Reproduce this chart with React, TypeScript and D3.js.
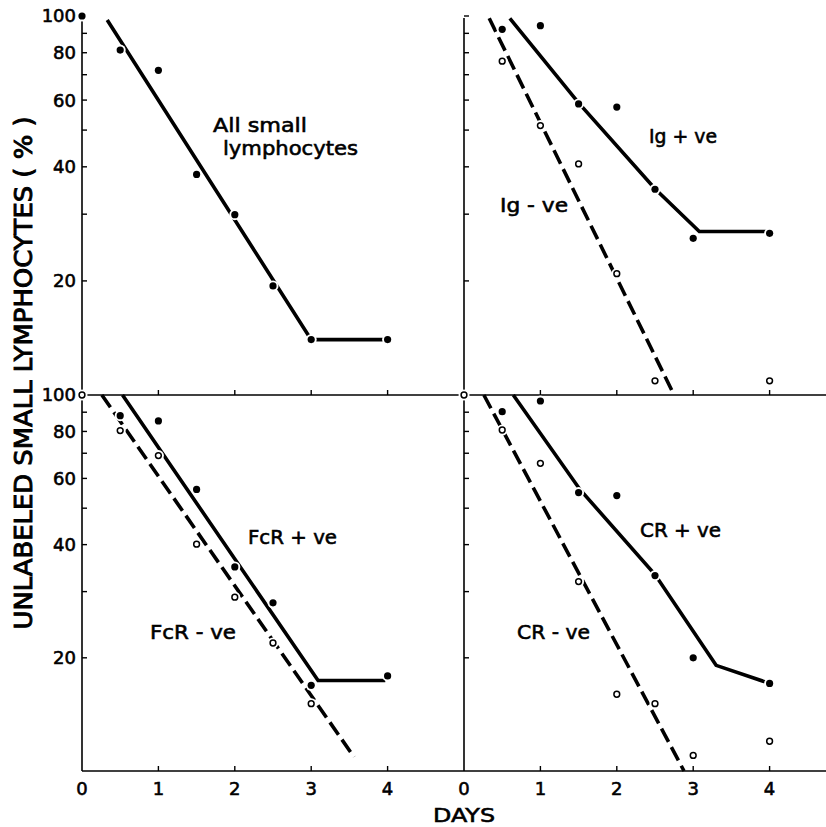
import React from "react";
import * as d3 from "d3";

// Sampling days and observed survival (% unlabeled small lymphocytes)
const allDays = [0, 0.5, 1, 1.5, 2, 2.5, 3, 4];
const allSmall = [100, 81.3, 71.9, 38.2, 29.9, 19.4, 14.0, 14.0];

const igPosDays = [0.5, 1, 1.5, 2, 2.5, 3, 4];
const igPos = [92.2, 94.3, 58.6, 57.5, 34.9, 25.9, 26.7];
const igNegDays = [0.5, 1, 1.5, 2, 2.5, 4];
const igNeg = [76.0, 51.4, 40.7, 20.9, 10.9, 10.9];

const fcrPosDays = [0.5, 1, 1.5, 2, 2.5, 3, 4];
const fcrPos = [88.1, 85.3, 56.1, 34.9, 28.0, 16.9, 17.9];
const fcrNegDays = [0, 0.5, 1, 1.5, 2, 2.5, 3];
const fcrNeg = [100, 80.4, 69.0, 40.1, 29.0, 21.9, 15.1];

const crPosDays = [0.5, 1, 1.5, 2, 2.5, 3, 4];
const crPos = [90.3, 96.4, 55.0, 54.0, 33.1, 20.0, 17.1];
const crNegDays = [0, 0.5, 1, 1.5, 2, 2.5, 3, 4];
const crNeg = [100, 80.7, 65.8, 31.9, 16.0, 15.1, 11.0, 12.0];

// Hand-fitted decay lines: [day, percent]
const allFit: [number, number][] = [[0.33, 97.6], [3, 14], [4, 14]];
const igPosFit: [number, number][] = [[0.6, 98.6], [1.5, 59], [2.5, 35], [3.08, 27], [4, 27]];
const igNegFit: [number, number][] = [[0.33, 98.6], [2.75, 10]];
const fcrPosFit: [number, number][] = [[0.53, 100], [3.09, 17.4], [3.97, 17.4]];
const fcrNegFit: [number, number][] = [[0.26, 100], [3.56, 10.9]];
const crPosFit: [number, number][] = [[0.645, 100], [1.52, 56], [2.5, 33.3], [3.3, 19.1], [4, 17.1]];
const crNegFit: [number, number][] = [[0.26, 100], [2.88, 10]];

const yTickValues = [100, 90, 80, 70, 60, 50, 40, 30, 20];
const yTickLabels = [100, 80, 60, 40, 20];
const xTickValues = [1, 2, 3, 4];
const xTickLabels = [0, 1, 2, 3, 4];

const FONT = "'DejaVu Sans', 'Liberation Sans', sans-serif";

type Series = { days: number[]; values: number[]; filled: boolean };
type Fit = { pts: [number, number][]; dashed: boolean };

export default function App() {
  const W = 826;
  const H = 827;

  const xLeft = d3.scaleLinear().domain([0, 5]).range([82, 464]);
  const xRight = d3.scaleLinear().domain([0, 5]).range([464, 846]);
  const yTop = d3.scaleLog().domain([10, 100]).range([395, 16]);
  const yBottom = d3.scaleLog().domain([10, 100]).range([771, 395]);

  const panels: {
    x: d3.ScaleLinear<number, number>;
    y: d3.ScaleLogarithmic<number, number>;
    series: Series[];
    fits: Fit[];
  }[] = [
    {
      x: xLeft,
      y: yTop,
      series: [{ days: allDays, values: allSmall, filled: true }],
      fits: [{ pts: allFit, dashed: false }],
    },
    {
      x: xRight,
      y: yTop,
      series: [
        { days: igPosDays, values: igPos, filled: true },
        { days: igNegDays, values: igNeg, filled: false },
      ],
      fits: [
        { pts: igPosFit, dashed: false },
        { pts: igNegFit, dashed: true },
      ],
    },
    {
      x: xLeft,
      y: yBottom,
      series: [
        { days: fcrPosDays, values: fcrPos, filled: true },
        { days: fcrNegDays, values: fcrNeg, filled: false },
      ],
      fits: [
        { pts: fcrPosFit, dashed: false },
        { pts: fcrNegFit, dashed: true },
      ],
    },
    {
      x: xRight,
      y: yBottom,
      series: [
        { days: crPosDays, values: crPos, filled: true },
        { days: crNegDays, values: crNeg, filled: false },
      ],
      fits: [
        { pts: crPosFit, dashed: false },
        { pts: crNegFit, dashed: true },
      ],
    },
  ];

  const axisStroke = 1.6;
  // slight outline thickens the lettering
  const textStroke = { stroke: "#000", strokeWidth: 0.6 };

  return (
    <svg
      width={W}
      height={H}
      viewBox={`0 0 ${W} ${H}`}
      style={{ position: "absolute", left: 0, top: 0, background: "#fff" }}
      fontFamily={FONT}
    >
      <rect x={0} y={0} width={W} height={H} fill="#fff" />

      {/* axis frame */}
      <line x1={xLeft(0)} x2={W} y1={yTop(10)} y2={yTop(10)} stroke="#000" strokeWidth={axisStroke} />
      <line x1={xLeft(0)} x2={W} y1={yBottom(10)} y2={yBottom(10)} stroke="#000" strokeWidth={axisStroke} />
      <line x1={xLeft(0)} x2={xLeft(0)} y1={yTop(100)} y2={yBottom(10)} stroke="#000" strokeWidth={axisStroke} />
      <line x1={xRight(0)} x2={xRight(0)} y1={yTop(100) + 2} y2={yBottom(10)} stroke="#000" strokeWidth={axisStroke} />

      {panels.map((p, i) => (
        <g key={`ticks-${i}`}>
          {yTickValues.map((v) => (
            <line key={v} x1={p.x(0)} x2={p.x(0) + 5} y1={p.y(v)} y2={p.y(v)} stroke="#000" strokeWidth={1.4} />
          ))}
          {xTickValues.map((d) => (
            <line key={d} x1={p.x(d)} x2={p.x(d)} y1={p.y(10)} y2={p.y(10) - 5} stroke="#000" strokeWidth={1.4} />
          ))}
        </g>
      ))}

      {/* y tick labels on the left column */}
      {[yTop, yBottom].map((y, i) => (
        <g key={`ylab-${i}`}>
          {yTickLabels.map((v) => (
            <text key={v} x={xLeft(0) - 6} y={y(v)} dy="0.36em" textAnchor="end" fontSize={18} fill="#000" {...textStroke}>
              {v}
            </text>
          ))}
        </g>
      ))}

      {/* x tick labels */}
      {[xLeft, xRight].map((x, i) => (
        <g key={`xlab-${i}`}>
          {xTickLabels.map((d) => (
            <text key={d} x={x(d)} y={795} textAnchor="middle" fontSize={18} fill="#000" {...textStroke}>
              {d}
            </text>
          ))}
        </g>
      ))}

      <text x={464} y={822} textAnchor="middle" fontSize={20} fill="#000" textLength={62} lengthAdjust="spacingAndGlyphs" {...textStroke}>
        DAYS
      </text>

      <text
        transform="translate(32,373) rotate(-90)"
        textAnchor="middle"
        fontSize={24}
        fill="#000"
        textLength={513}
        lengthAdjust="spacingAndGlyphs"
        stroke="#000"
        strokeWidth={0.9}
      >
        UNLABELED  SMALL  LYMPHOCYTES ( % )
      </text>

      {/* fitted lines */}
      {panels.map((p, i) => {
        const line = d3
          .line<[number, number]>()
          .x((d) => p.x(d[0]))
          .y((d) => p.y(d[1]));
        return (
          <g key={`fit-${i}`}>
            {p.fits.map((f, j) => (
              <path
                key={j}
                d={line(f.pts) || ""}
                fill="none"
                stroke="#000"
                strokeWidth={3.6}
                strokeDasharray={f.dashed ? "15,6" : undefined}
              />
            ))}
          </g>
        );
      })}

      {/* observed points */}
      {panels.map((p, i) => (
        <g key={`pts-${i}`}>
          {p.series.map((s, j) =>
            s.days.map((d, k) => (
              <g key={`${j}-${k}`}>
                <circle cx={p.x(d)} cy={p.y(s.values[k])} r={5.5} fill="#fff" />
                {s.filled ? (
                  <circle cx={p.x(d)} cy={p.y(s.values[k])} r={3.6} fill="#000" />
                ) : (
                  <circle cx={p.x(d)} cy={p.y(s.values[k])} r={2.9} fill="#fff" stroke="#000" strokeWidth={1.5} />
                )}
              </g>
            ))
          )}
        </g>
      ))}

      {/* series labels */}
      <g fontSize={20} fill="#000" {...textStroke}>
        <text x={213} y={132} textLength={94} lengthAdjust="spacingAndGlyphs">All small</text>
        <text x={223} y={155} textLength={135} lengthAdjust="spacingAndGlyphs">lymphocytes</text>
        <text x={649} y={143} textLength={68} lengthAdjust="spacingAndGlyphs">Ig + ve</text>
        <text x={500} y={212} textLength={68} lengthAdjust="spacingAndGlyphs">Ig - ve</text>
        <text x={248} y={544} textLength={89} lengthAdjust="spacingAndGlyphs">FcR + ve</text>
        <text x={150} y={639} textLength={86} lengthAdjust="spacingAndGlyphs">FcR - ve</text>
        <text x={640} y={537} textLength={81} lengthAdjust="spacingAndGlyphs">CR + ve</text>
        <text x={517} y={639} textLength={73} lengthAdjust="spacingAndGlyphs">CR - ve</text>
      </g>
    </svg>
  );
}
